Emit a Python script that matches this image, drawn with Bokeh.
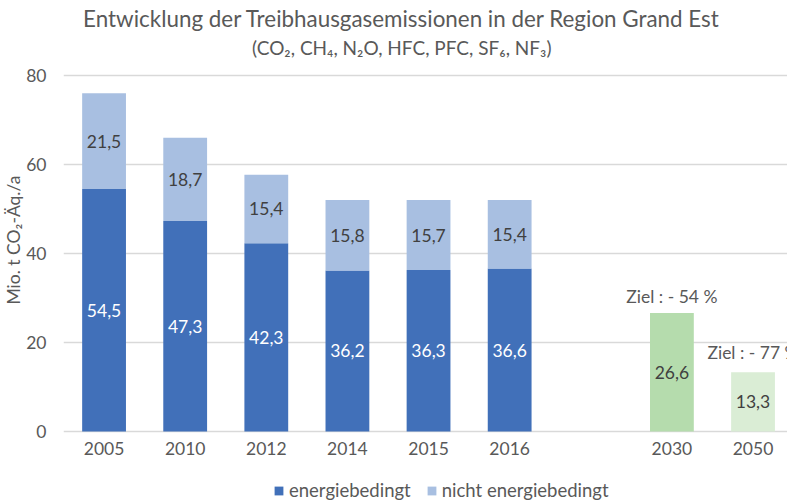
from bokeh.plotting import figure
from bokeh.models import (ColumnDataSource, Range1d, FixedTicker, Legend, LegendItem, Label, Title)
from bokeh.core.properties import value
from bokeh.embed import file_html
from bokeh.resources import INLINE

# ---- data ----
years = ["2005", "2010", "2012", "2014", "2015", "2016"]
energie = [54.5, 47.3, 42.3, 36.2, 36.3, 36.6]
nicht_energie = [21.5, 18.7, 15.4, 15.8, 15.7, 15.4]
target_years = ["2030", "2050"]
target_values = [26.6, 13.3]
target_notes = ["Ziel : - 54 %", "Ziel : - 77 %"]
y_ticks = [0, 20, 40, 60, 80]

FONT = "Lato"
DARK = "#4170B9"
LIGHT = "#A8BFE1"
GREENS = ["#B5DCAD", "#DAEDD5"]
TXT = "#404040"
AX = "#595959"

hist_x = list(range(len(years)))
tgt_x = [len(years) + 1 + i for i in range(len(target_years))]

def fmt(v):
    return f"{v:.1f}".replace(".", ",")

src = ColumnDataSource(dict(
    x=hist_x, energie=energie, nicht=nicht_energie,
    mid_e=[e / 2 for e in energie],
    mid_n=[e + n / 2 for e, n in zip(energie, nicht_energie)],
    lab_e=[fmt(v) for v in energie],
    lab_n=[fmt(v) for v in nicht_energie],
))
tsrc = ColumnDataSource(dict(
    x=tgt_x, top=target_values, color=GREENS,
    mid=[v / 2 for v in target_values],
    lab=[fmt(v) for v in target_values],
    note=target_notes,
))

p = figure(width=787, height=501, output_backend="svg", toolbar_location=None,
           x_range=Range1d(-0.5, 8.425), y_range=Range1d(-15.73, 96.85),
           min_border_left=63, min_border_right=0, min_border_top=0, min_border_bottom=0)
p.outline_line_color = None
p.background_fill_color = "white"
p.border_fill_color = "white"

r = p.vbar_stack(["energie", "nicht"], x="x", width=0.54, source=src,
                 color=[DARK, LIGHT], line_color=None)
p.vbar(x="x", top="top", bottom=0, width=0.54, source=tsrc, fill_color="color", line_color=None)

# value labels
LBL = "17.5px"
p.text(x="x", y="mid_e", text="lab_e", source=src, text_align="center", text_baseline="middle",
       text_color="white", text_font=value(FONT), text_font_size=LBL)
p.text(x="x", y="mid_n", text="lab_n", source=src, text_align="center", text_baseline="middle",
       text_color=TXT, text_font=value(FONT), text_font_size=LBL)
p.text(x="x", y="mid", text="lab", source=tsrc, text_align="center", text_baseline="middle",
       text_color=TXT, text_font=value(FONT), text_font_size=LBL)

# target notes
note_y = [30.3, 17.8]
for xx, yy, t in zip(tgt_x, note_y, target_notes):
    p.add_layout(Label(x=xx, y=yy, text=t, text_align="center", text_baseline="middle",
                       text_color=AX, text_font=FONT, text_font_size=LBL))

# axes
for ax in (p.xaxis, p.yaxis):
    ax.axis_line_color = None
    ax.major_tick_line_color = None
    ax.minor_tick_line_color = None
    ax.major_tick_out = 0
    ax.major_tick_in = 0
    ax.minor_tick_out = 0
    ax.minor_tick_in = 0
    ax.major_label_text_font = FONT
    ax.major_label_text_font_size = "17.5px"
    ax.major_label_text_color = AX

p.yaxis.ticker = FixedTicker(ticks=y_ticks)
p.yaxis.major_label_standoff = 17

p.xaxis.fixed_location = 0
p.xaxis.ticker = FixedTicker(ticks=hist_x + tgt_x)
p.xaxis.major_label_overrides = {x: y for x, y in zip(hist_x + tgt_x, years + target_years)}
p.xaxis.major_label_standoff = 11

p.xgrid.grid_line_color = None
p.ygrid.ticker = FixedTicker(ticks=y_ticks)
p.ygrid.grid_line_color = "#D9D9D9"
p.ygrid.grid_line_width = 1.3

# y axis title (rotated, in the left panel)
p.add_layout(Title(text="Mio. t CO\u2082-\u00c4q./a", align="left", offset=197, standoff=0,
                   text_font=FONT, text_font_size="17.5px", text_font_style="normal",
                   text_color=AX), "left")

# chart titles
p.add_layout(Label(x=3.67, y=92.8, text="Entwicklung der Treibhausgasemissionen in der Region Grand Est",
                   text_align="center", text_baseline="middle", text_color=AX,
                   text_font=FONT, text_font_size="22.4px"))
p.add_layout(Label(x=3.67, y=86.3, text="(CO\u2082, CH\u2084, N\u2082O, HFC, PFC, SF\u2086, NF\u2083)",
                   text_align="center", text_baseline="middle", text_color=AX,
                   text_font=FONT, text_font_size="19px"))

legend = Legend(items=[LegendItem(label="energiebedingt", renderers=[r[0]]),
                       LegendItem(label="nicht energiebedingt", renderers=[r[1]])],
                orientation="horizontal", location=(210, 0), padding=0, margin=0,
                spacing=15, glyph_width=11, glyph_height=11, label_standoff=5,
                label_text_font=FONT, label_text_font_size="18.5px", label_text_color=AX,
                border_line_color=None, background_fill_alpha=0)
p.add_layout(legend, "center")

open("out.html", "w").write(file_html(p, INLINE))
